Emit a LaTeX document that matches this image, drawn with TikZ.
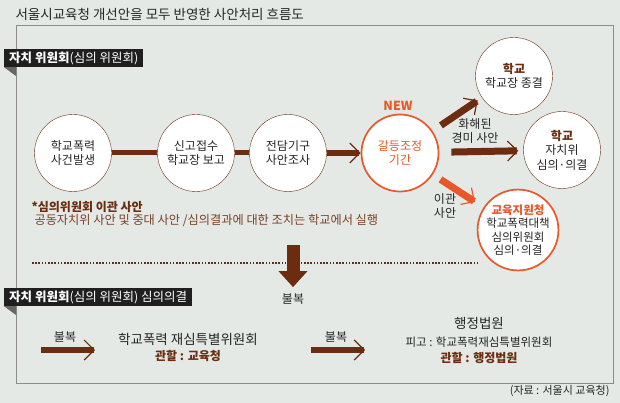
\documentclass[tikz,border=0pt]{standalone}
\usepackage{fontspec}
\setmainfont{Noto Sans CJK KR}
\usetikzlibrary{arrows.meta}
\definecolor{brn}{HTML}{6B2C0F}
\definecolor{org}{HTML}{E8582A}
\definecolor{bgc}{HTML}{E4E9E6}
\definecolor{ink}{HTML}{262626}
\tikzset{
    circ/.style={circle,draw=brn,fill=white,minimum size=77pt,inner sep=0pt,align=center,text=ink,font=\fontsize{12}{14.5}\selectfont},
    hot/.style={circ,draw=org,line width=1.7pt},
    bar/.style={draw=brn,line width=6pt},
    arr/.style={bar,-{Straight Barb[line width=1.2pt,length=10pt,width=20pt]}},
    tab/.style={fill=black!88,text=white,anchor=west,inner xsep=5pt,inner ysep=0pt,minimum height=18pt,font=\fontsize{12.5}{13}\selectfont},
    lbl/.style={text=ink,align=center,font=\fontsize{12}{14.5}\selectfont},
    key/.style={text=brn,font=\bfseries\fontsize{12}{13}\selectfont}
}
\begin{document}
\begin{tikzpicture}[x=1pt,y=-1pt]
        \fill[bgc] (0,0) rectangle (620,403);
        \useasboundingbox (0,0) rectangle (620,403);
        \draw[black!45,line width=1pt] (16,26) rectangle (613,383);
        \node[anchor=west,text=ink,font=\fontsize{13.5}{15}\selectfont] (title) at (12,14) {서울시교육청 개선안을 모두 반영한 사안처리 흐름도};
        \node[tab] (tab1) at (4,58) {\textbf{자치 위원회}(심의 위원회)};
        \fill[black!60] (tab1.south west) -- (16,67) -- (16,76) -- cycle;
        \node[circ] (a) at (73,153) {학교폭력\\사건발생};
        \node[circ] (b) at (196,153) {신고접수\\학교장 보고};
        \node[circ] (c) at (288,153) {전담기구\\사안조사};
        \node[hot,text=org] (d) at (400,153) {갈등조정\\기간};
        \node[text=org,font=\bfseries\fontsize{12.5}{13}\selectfont] (new) at (398,106) {NEW};
        \node[circ] (e) at (514,76) {\textbf{\color{brn}학교}\\학교장 종결};
        \node[circ] (f) at (562,150) {\textbf{\color{brn}학교}\\자치위\\심의·의결};
        \node[hot,font=\fontsize{11.5}{13.3}\selectfont] (g) at (518,230) {\textbf{\color{org}교육지원청}\\학교폭력대책\\심의위원회\\심의·의결};
        \draw[bar,line width=5pt] (a) -- (b);
        \draw[bar,line width=5pt] (b) -- (c);
        \draw[arr] (c) -- (d);
        \draw[arr,line width=7pt,shorten <=10pt,shorten >=5pt] (d) -- (e);
        \draw[arr,line width=7pt,shorten <=12pt,shorten >=5pt] (d) -- (f);
        \draw[arr,draw=org,line width=7pt,shorten <=9pt,shorten >=10pt] (d) -- (g);
        \node[lbl] (mild) at (475,131) {화해된\\경미 사안};
        \node[lbl] (move) at (445,206) {이관\\사안};
        \node[key,anchor=west] (note) at (28,207) {*심의위원회 이관 사안};
        \node[anchor=west,text=brn!90,font=\fontsize{12.2}{14}\selectfont] (notes) at (31,221) {공동자치위 사안 및 중대 사안 /심의결과에 대한 조치는 학교에서 실행};
        \coordinate (dl) at (32,263);
        \coordinate (dr) at (478,263);
        \draw[brn,line width=1.6pt,dash pattern=on 1.6pt off 1.6pt] (dl) -- (dr);
        \coordinate (drop) at (293,245);
        \node[lbl] (appeal) at (293,299) {불복};
        \draw[brn,line width=13pt,-{Triangle[width=28pt,length=16pt]},shorten >=3pt] (drop) -- (appeal.north);
        \node[tab] (tab2) at (4,297) {\textbf{자치 위원회}(심의 위원회) 심의의결};
        \fill[black!60] (tab2.south west) -- (16,306) -- (16,315) -- cycle;
        \coordinate (p1a) at (41,350);
        \coordinate (p1b) at (95,350);
        \draw[arr] (p1a) -- (p1b);
        \node[lbl] (appeal1) at (65,337) {불복};
        \node[text=ink,font=\fontsize{13.5}{15}\selectfont] (board) at (188,339) {학교폭력 재심특별위원회};
        \node[key] (board2) at (188,356) {관할 : 교육청};
        \coordinate (p2a) at (311,350);
        \coordinate (p2b) at (365,350);
        \draw[arr] (p2a) -- (p2b);
        \node[lbl] (appeal2) at (336,337) {불복};
        \node[text=ink,font=\fontsize{13.5}{15}\selectfont] (court) at (479,323) {행정법원};
        \node[lbl,font=\fontsize{11.5}{13}\selectfont] (court2) at (479,342) {피고 : 학교폭력재심특별위원회};
        \node[key] (court3) at (479,358) {관할 : 행정법원};
        \node[anchor=east,text=ink,font=\fontsize{11}{12}\selectfont] (src) at (613,391) {(자료 : 서울시 교육청)};
    \end{tikzpicture}
\end{document}
